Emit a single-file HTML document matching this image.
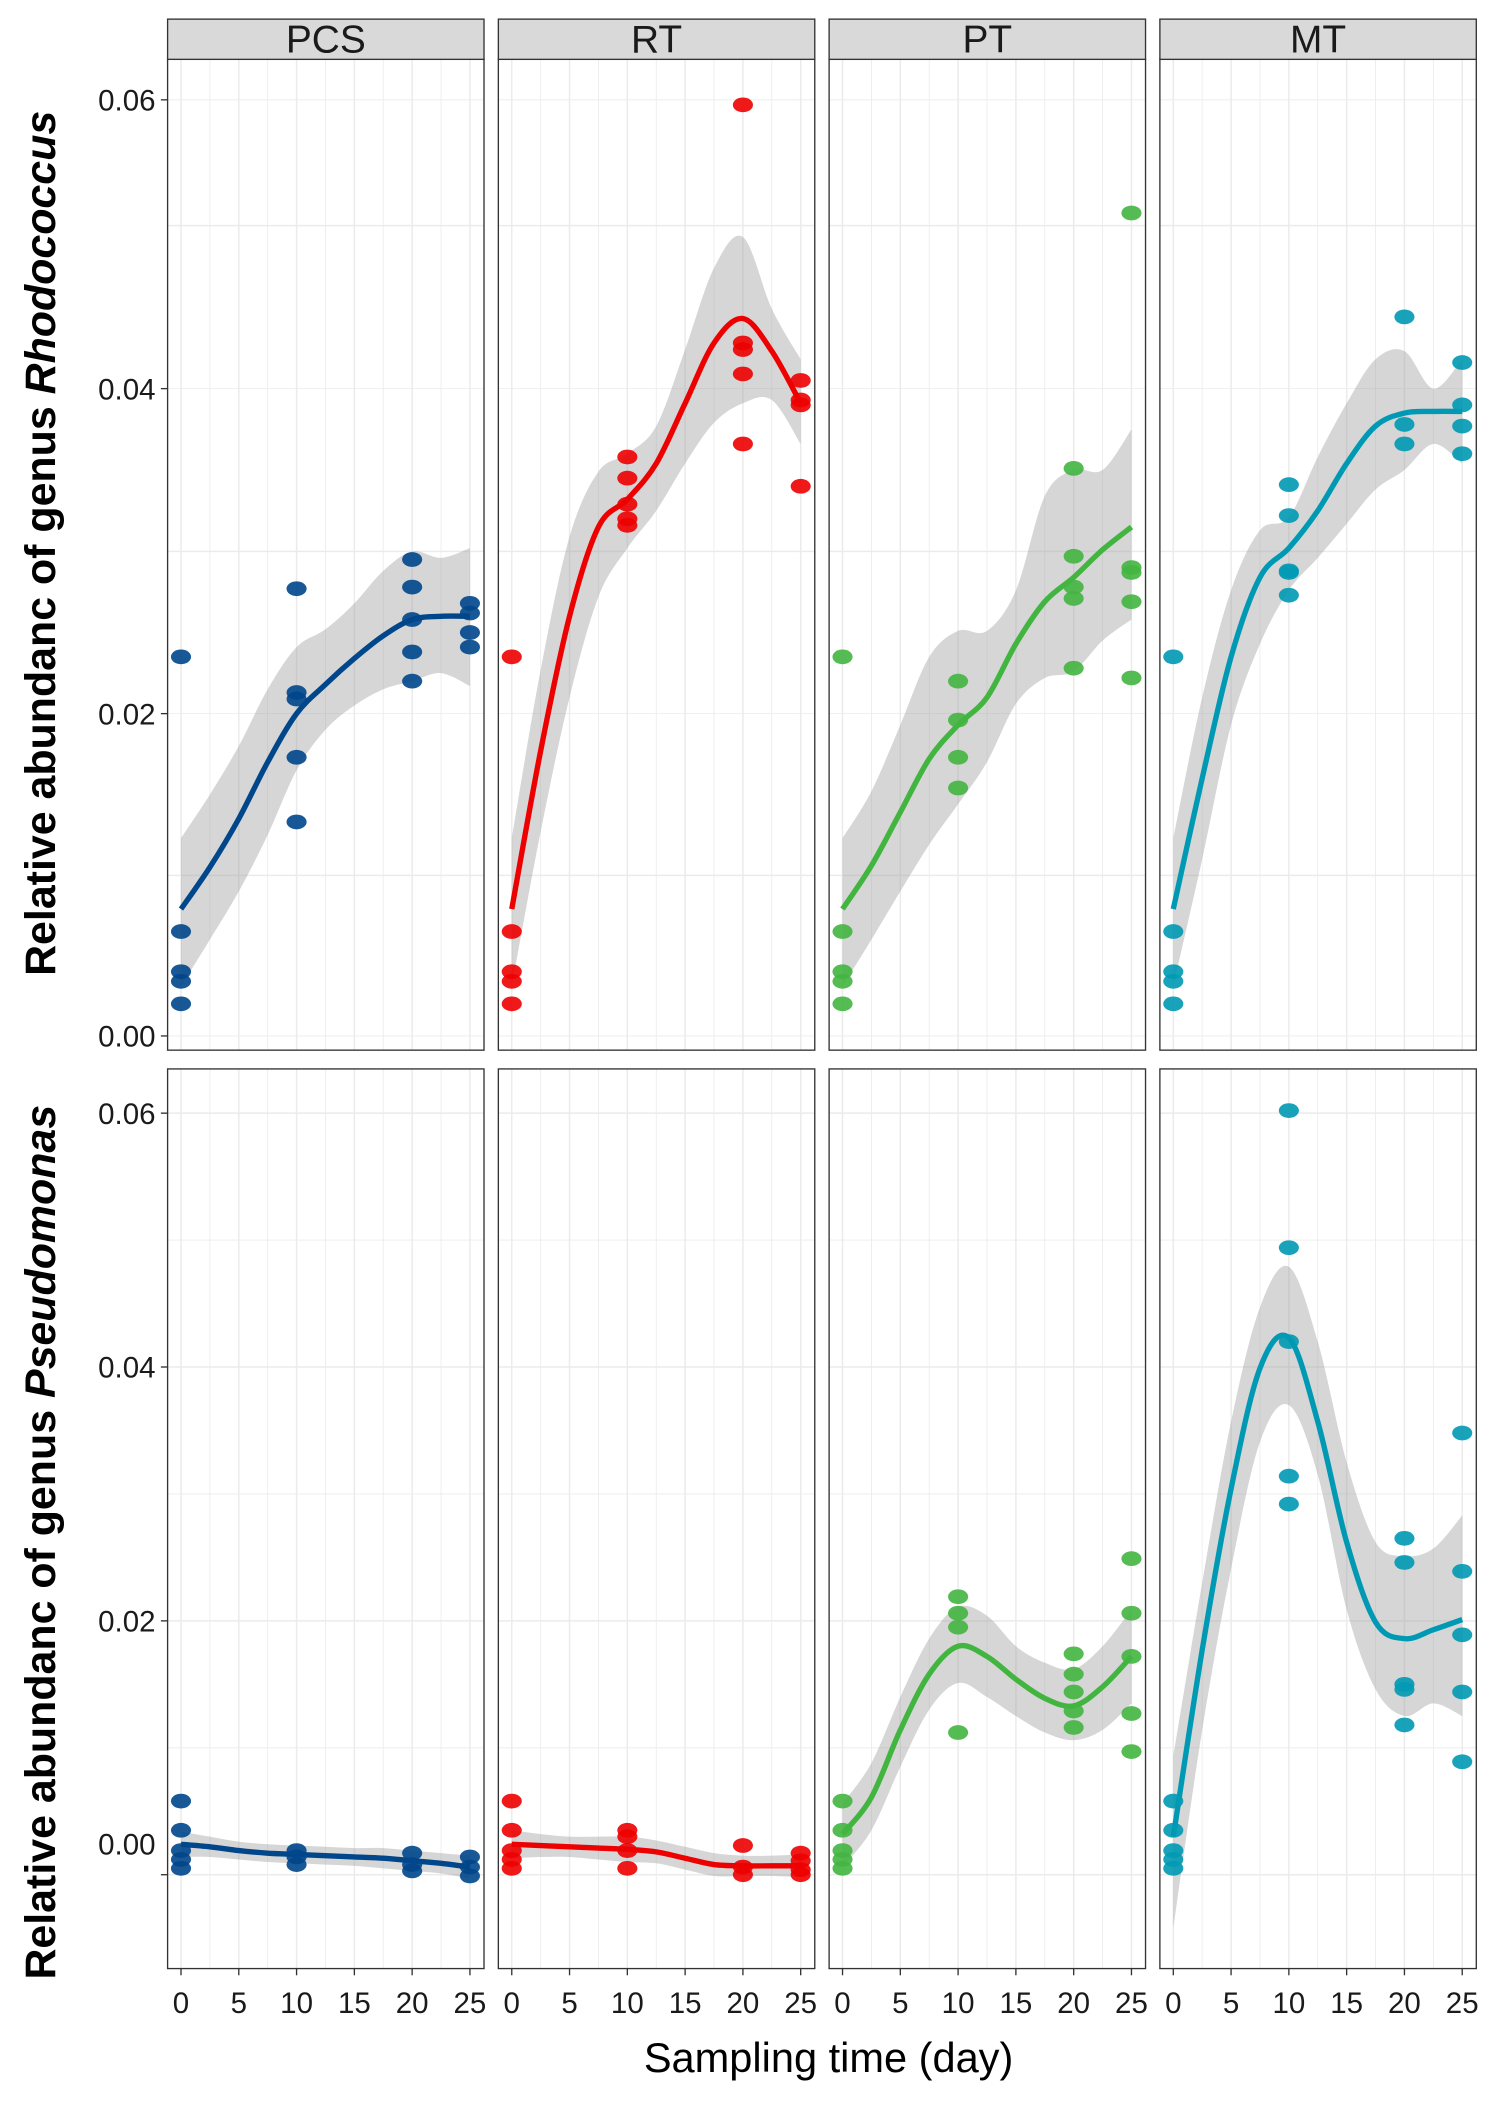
<!DOCTYPE html>
<html><head><meta charset="utf-8"><style>
html,body{margin:0;padding:0;background:#fff;}
svg{display:block;font-family:"Liberation Sans",Arial,sans-serif;}
</style></head><body>
<svg id="chart" width="1507" height="2103" viewBox="0 0 1124 1568" xmlns="http://www.w3.org/2000/svg"></svg>
<script>
const groups = ["PCS","RT","PT","MT"];
const colors = ["#00468B","#ED0000","#42B540","#0099B4"];
const days = [0,10,20,25];
const smoothDays = [0,2.5,5,7.5,10,12.5,15,17.5,20,22.5,25];
const xTicks = [0,5,10,15,20,25];
const yTicks = [0,0.02,0.04,0.06];
const yTickLabels = ["0.00","0.02","0.04","0.06"];
const d0 = [0.0235,0.0065,0.004,0.0034,0.002];
const rhodoPoints = {
 PCS:[d0,[0.0277,0.0213,0.0209,0.0173,0.0133],[0.0295,0.0278,0.0258,0.0238,0.022],[0.0268,0.0262,0.025,0.0241]],
 RT:[d0,[0.0358,0.0345,0.0329,0.032,0.0316],[0.0596,0.0428,0.0424,0.0409,0.0366],[0.0405,0.0393,0.039,0.034]],
 PT:[d0,[0.022,0.0196,0.0173,0.0154],[0.0351,0.0297,0.0278,0.0271,0.0228],[0.051,0.029,0.0287,0.0269,0.0222]],
 MT:[d0,[0.0341,0.0322,0.0288,0.0287,0.0273],[0.0444,0.0378,0.0366],[0.0416,0.039,0.0377,0.036]]
};
const rhodoFit = {
 PCS:[0.0079,0.0105,0.0135,0.017,0.02,0.0218,0.0234,0.0248,0.0258,0.026,0.026],
 RT:[0.0079,0.0177,0.026,0.0315,0.0332,0.0354,0.0391,0.0428,0.0443,0.0423,0.0391],
 PT:[0.0079,0.0106,0.0139,0.0172,0.0193,0.021,0.0243,0.0269,0.0284,0.0301,0.0315],
 MT:[0.0079,0.016,0.0235,0.0284,0.0302,0.0325,0.0354,0.0377,0.0385,0.0386,0.0386]
};
const rhodoUpper = {
 PCS:[0.0123,0.015,0.018,0.0215,0.0241,0.0252,0.0268,0.0288,0.03,0.0296,0.0302],
 RT:[0.0123,0.0227,0.0309,0.0349,0.036,0.0377,0.0424,0.0474,0.0493,0.0449,0.0418],
 PT:[0.0123,0.0152,0.0193,0.0235,0.0251,0.0251,0.0276,0.0334,0.035,0.035,0.0375],
 MT:[0.0123,0.021,0.0276,0.0313,0.0321,0.0358,0.0391,0.0418,0.0423,0.04,0.0418]
};
const rhodoLower = {
 PCS:[0.0031,0.006,0.009,0.0125,0.0165,0.019,0.0205,0.0215,0.022,0.0225,0.0217],
 RT:[0.0031,0.0127,0.021,0.0272,0.0302,0.0325,0.0354,0.0379,0.0391,0.0393,0.0366],
 PT:[0.0031,0.006,0.009,0.0119,0.0144,0.017,0.0206,0.0222,0.0226,0.0245,0.0258],
 MT:[0.0031,0.011,0.0193,0.0243,0.0276,0.0296,0.0317,0.0338,0.035,0.0366,0.0354]
};
const pd0 = [0.0058,0.0035,0.0019,0.0012,0.0005];
const pseudoPoints = {
 PCS:[pd0,[0.0019,0.0014,0.0008],[0.0017,0.0008,0.0003],[0.0014,0.0006,-0.0001]],
 RT:[pd0,[0.0035,0.003,0.0019,0.0005],[0.0023,0.0006,0],[0.0017,0.0011,0.0004,0]],
 PT:[pd0,[0.0219,0.0206,0.0195,0.0112],[0.0174,0.0158,0.0144,0.0129,0.0116],[0.0249,0.0206,0.0172,0.0127,0.0097]],
 MT:[pd0,[0.0602,0.0494,0.042,0.0314,0.0292],[0.0265,0.0246,0.015,0.0146,0.0118],[0.0348,0.0239,0.0189,0.0144,0.0089]]
};
const pseudoFit = {
 PCS:[0.0024,0.0022,0.0019,0.0017,0.0016,0.0015,0.0014,0.0013,0.0011,0.0009,0.0006],
 RT:[0.0024,0.0023,0.0022,0.0021,0.002,0.0018,0.0013,0.0008,0.0007,0.0007,0.0007],
 PT:[0.0032,0.0061,0.0114,0.0158,0.018,0.0172,0.0154,0.0139,0.0133,0.0148,0.0172],
 MT:[0.003,0.0177,0.0304,0.0399,0.0423,0.0357,0.0262,0.0199,0.0186,0.0193,0.0201]
};
const pseudoUpper = {
 PCS:[0.0034,0.003,0.0026,0.0024,0.0023,0.0022,0.0021,0.0021,0.0019,0.0017,0.0015],
 RT:[0.0035,0.0032,0.003,0.003,0.003,0.0027,0.0022,0.0017,0.0015,0.0015,0.0016],
 PT:[0.0056,0.0088,0.014,0.0186,0.0211,0.0204,0.018,0.0167,0.0162,0.018,0.0209],
 MT:[0.0093,0.023,0.0357,0.0447,0.0479,0.042,0.0325,0.0262,0.0251,0.0257,0.0283]
};
const pseudoLower = {
 PCS:[0.0014,0.0014,0.0012,0.001,0.0009,0.0008,0.0007,0.0005,0.0003,0.0001,-0.0003],
 RT:[0.0013,0.0014,0.0014,0.0012,0.001,0.0009,0.0004,-0.0001,-0.0001,-0.0001,-0.0002],
 PT:[0.0006,0.0035,0.0085,0.013,0.0151,0.014,0.0125,0.0112,0.0106,0.0114,0.0135],
 MT:[-0.0042,0.0114,0.0241,0.0341,0.037,0.0315,0.0209,0.0146,0.0125,0.0135,0.0125]
};

const svg = document.getElementById('chart');
const NS = 'http://www.w3.org/2000/svg';
function mk(tag, attrs, parent){const e=document.createElementNS(NS,tag);for(const k in attrs)e.setAttribute(k,attrs[k]);(parent||svg).appendChild(e);return e;}

const panelW = 236, panelStep = 246.7, panelX0 = 125;
function xScale(i,d){return panelX0+i*panelStep+10+d*8.62;}
const topVals=[0,0.01,0.02,0.03,0.04,0.05,0.06], topPix=[772.4,652.6,532,411,289.6,168,74.2];
function yTop(v){
  if(v<=0) return 772.4+(0-v)*12020;
  for(let k=0;k<topVals.length-1;k++){ if(v<=topVals[k+1]){const t=(v-topVals[k])/(topVals[k+1]-topVals[k]);return topPix[k]+t*(topPix[k+1]-topPix[k]);} }
  return 74.2-(v-0.06)*9400;
}
function yBot(v){return 1398-(v/0.01)*94.67;}

function smoothPath(pts){
  let d='M'+pts[0][0]+','+pts[0][1];
  for(let i=0;i<pts.length-1;i++){
    const p0=pts[Math.max(0,i-1)],p1=pts[i],p2=pts[i+1],p3=pts[Math.min(pts.length-1,i+2)];
    const c1=[p1[0]+(p2[0]-p0[0])/6,p1[1]+(p2[1]-p0[1])/6];
    const c2=[p2[0]-(p3[0]-p1[0])/6,p2[1]-(p3[1]-p1[1])/6];
    d+=' C'+c1[0].toFixed(2)+','+c1[1].toFixed(2)+' '+c2[0].toFixed(2)+','+c2[1].toFixed(2)+' '+p2[0].toFixed(2)+','+p2[1].toFixed(2);
  }
  return d;
}

function drawRow(rowName, top, bottom, yFn, gridVals, points, fit, up, lo){
  groups.forEach((g,i)=>{
    const left=panelX0+i*panelStep;
    const grp=mk('g',{});
    
    
    mk('rect',{x:left,y:top,width:panelW,height:bottom-top,fill:'#fff'},grp);
    gridVals.forEach((v,k)=>{const y=yFn(v);if(y<top||y>bottom)return;
      const l=mk('line',{x1:left,x2:left+panelW,y1:y,y2:y,stroke:'#ebebeb','stroke-width':k%2?0.6:1.1},grp);
      
      });
    for(let d=0;d<=25;d+=2.5){const x=xScale(i,d);
      const l=mk('line',{x1:x,x2:x,y1:top,y2:bottom,stroke:'#ebebeb','stroke-width':(d%5===0)?1.1:0.6},grp);
      
      }
    const upPts=smoothDays.map((d,k)=>[xScale(i,d),yFn(up[g][k])]);
    const loPts=smoothDays.map((d,k)=>[xScale(i,d),yFn(lo[g][k])]).reverse();
    const band=mk('path',{d:smoothPath(upPts)+' L'+smoothPath(loPts).slice(1)+' Z',fill:'#999','fill-opacity':0.4},grp);
    
    
    days.forEach((d,j)=>{points[g][j].forEach(v=>{
      const e=mk('ellipse',{cx:xScale(i,d),cy:yFn(v),rx:7.5,ry:5.5,fill:colors[i],'fill-opacity':0.9},grp);
      
      
    });});
    const fp=smoothDays.map((d,k)=>[xScale(i,d),yFn(fit[g][k])]);
    const line=mk('path',{d:smoothPath(fp),fill:'none',stroke:colors[i],'stroke-width':4},grp);
    
    
    const b=mk('rect',{x:left,y:top,width:panelW,height:bottom-top,fill:'none',stroke:'#333','stroke-width':1},grp);
    
    
  });
}
const gv=[-0.01,0,0.01,0.02,0.03,0.04,0.05,0.06];
drawRow('rhodococcus',44,783,yTop,gv,rhodoPoints,rhodoFit,rhodoUpper,rhodoLower);
drawRow('pseudomonas',797,1468,yBot,[0,0.01,0.02,0.03,0.04,0.05,0.06],pseudoPoints,pseudoFit,pseudoUpper,pseudoLower);

groups.forEach((g,i)=>{
  const left=panelX0+i*panelStep;
  const r=mk('rect',{x:left,y:14,width:panelW,height:30,fill:'#d9d9d9',stroke:'#333','stroke-width':1});
  
  
  const t=mk('text',{x:left+panelW/2,y:39,'text-anchor':'middle','font-size':29,fill:'#1a1a1a'});
  t.textContent=g;
  
  
  xTicks.forEach(d=>{
    const x=xScale(i,d);
    mk('line',{x1:x,x2:x,y1:1468,y2:1473,stroke:'#333','stroke-width':1});
    const tl=mk('text',{x:x,y:1501,'text-anchor':'middle','font-size':22,fill:'#1a1a1a'});
    tl.textContent=d;
    
    
  });
});
yTicks.forEach((v,k)=>{
  let y=yTop(v);
  mk('line',{x1:120,x2:125,y1:y,y2:y,stroke:'#333','stroke-width':1});
  let t=mk('text',{x:116,y:y+8,'text-anchor':'end','font-size':22,fill:'#1a1a1a'});
  t.textContent=yTickLabels[k];
  
  
  y=yBot(v);
  mk('line',{x1:120,x2:125,y1:y,y2:y,stroke:'#333','stroke-width':1});
  const ly = v===0 ? y-15 : y+8;
  t=mk('text',{x:116,y:ly,'text-anchor':'end','font-size':22,fill:'#1a1a1a'});
  t.textContent=yTickLabels[k];
  
  
});
function ytitle(cy,genus,name){
  const t=mk('text',{transform:'translate(41,'+cy+') rotate(-90)','text-anchor':'middle','font-size':32,'font-weight':'bold',fill:'#000'});
  
  
  t.appendChild(document.createTextNode('Relative abundanc of genus '));
  const s=mk('tspan',{'font-style':'italic'},t);s.textContent=genus;
}
ytitle(405,'Rhodococcus','y-axis-title-rhodococcus');
ytitle(1150,'Pseudomonas','y-axis-title-pseudomonas');
const xt=mk('text',{x:618,y:1545,'text-anchor':'middle','font-size':31,fill:'#000'});
xt.textContent='Sampling time (day)';


</script>
</body></html>
